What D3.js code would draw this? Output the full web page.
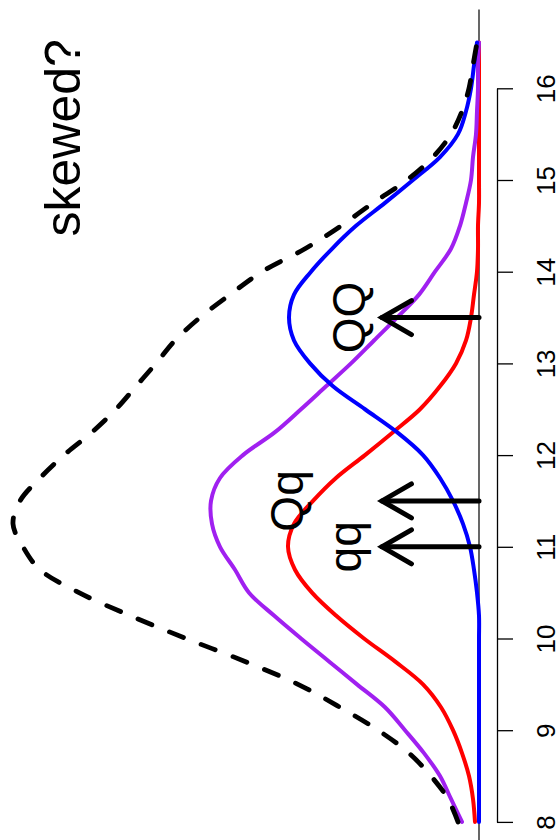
<!DOCTYPE html>
<html>
<head>
<meta charset="utf-8">
<script src="https://cdn.jsdelivr.net/npm/d3@7"></script>
<style>
  html, body { margin: 0; padding: 0; background: #fff; }
  svg { display: block; }
  text { font-family: "Liberation Sans", Arial, Helvetica, sans-serif; }
</style>
</head>
<body>
<svg id="chart" width="559" height="840"></svg>
<script>
// Trait values (x) at which the genotype densities are tabulated
const traitValues = [8, 8.25, 8.5, 8.75, 9, 9.25, 9.5, 9.75, 10, 10.25, 10.5, 10.75,
  11, 11.25, 11.5, 11.75, 12, 12.25, 12.5, 12.75, 13, 13.25, 13.5, 13.75,
  14, 14.25, 14.5, 14.75, 15, 15.25, 15.5, 15.75, 16, 16.25, 16.5];

// qq genotype density
const qqDensity = [0.004, 0.006, 0.010, 0.017, 0.026, 0.038, 0.056, 0.084, 0.115, 0.143, 0.167, 0.184,
  0.191, 0.185, 0.166, 0.143, 0.114, 0.086, 0.059, 0.039, 0.023, 0.013, 0.008, 0.005,
  0.002, 0.001, 0.001, 0.000, 0.000, 0.000, 0.000, 0.000, 0.000, 0.000, 0.000];

// Qq genotype density
const QqDensity = [0.017, 0.028, 0.039, 0.055, 0.074, 0.094, 0.122, 0.150, 0.178, 0.205, 0.230, 0.244,
  0.259, 0.267, 0.268, 0.259, 0.236, 0.204, 0.178, 0.153, 0.128, 0.105, 0.082, 0.060,
  0.044, 0.028, 0.019, 0.013, 0.008, 0.006, 0.003, 0.002, 0.001, 0.001, 0.000];

// QQ genotype density
const QQDensity = [0.000, 0.000, 0.000, 0.000, 0.000, 0.000, 0.000, 0.000, 0.000, 0.000, 0.002, 0.005,
  0.009, 0.016, 0.026, 0.039, 0.056, 0.082, 0.114, 0.146, 0.169, 0.185, 0.190, 0.185,
  0.168, 0.147, 0.123, 0.094, 0.066, 0.039, 0.021, 0.013, 0.008, 0.005, 0.002];

// Population (total) density
const totalDensity = [0.021, 0.031, 0.048, 0.070, 0.101, 0.139, 0.181, 0.234, 0.293, 0.349, 0.400, 0.439,
  0.456, 0.466, 0.459, 0.439, 0.415, 0.387, 0.363, 0.343, 0.323, 0.304, 0.279, 0.249,
  0.217, 0.174, 0.138, 0.106, 0.072, 0.046, 0.028, 0.017, 0.010, 0.006, 0.002];

// Genotype means marked with arrows, their labels and label heights
const genotypeLabels = ["qq", "Qq", "QQ"];
const genotypeMeans = [11, 11.5, 13.5];
const labelHeights = [0.135, 0.193, 0.131];
const arrowHeight = 0.097;

const tickValues = [8, 9, 10, 11, 12, 13, 14, 15, 16];
const titleText = "skewed?";
const titlePos = 15.46;

const svg = d3.select("#chart");

// The plot is laid out sideways: trait runs bottom-to-top, density runs right-to-left.
const xScale = d3.scaleLinear().domain([8, 16]).range([821.9, 88.3]);
const dScale = d3.scaleLinear().domain([0, 0.5]).range([479, -21]);

// zero-density reference line across the plot region
svg.append("line")
  .attr("x1", dScale(0)).attr("x2", dScale(0))
  .attr("y1", xScale(16.86)).attr("y2", xScale(7.66))
  .attr("stroke", "#000").attr("stroke-width", 1.2);

const line = d3.line()
  .x(d => dScale(d[1]))
  .y(d => xScale(d[0]))
  .curve(d3.curveCatmullRom);

const series = [
  { values: qqDensity, color: "#FF0000", width: 4, dash: null },
  { values: QqDensity, color: "#A020F0", width: 4, dash: null },
  { values: QQDensity, color: "#0000FF", width: 4, dash: null },
  { values: totalDensity, color: "#000000", width: 4.8, dash: "15,19" }
];

series.forEach(s => {
  svg.append("path")
    .datum(traitValues.map((x, i) => [x, s.values[i]]))
    .attr("d", line)
    .attr("fill", "none")
    .attr("stroke", s.color)
    .attr("stroke-width", s.width)
    .attr("stroke-linejoin", "round")
    .attr("stroke-linecap", "round")
    .attr("stroke-dasharray", s.dash);
});

// arrows marking the genotype means
const headLen = 34, headAng = Math.PI / 6;
genotypeMeans.forEach(m => {
  const y = xScale(m);
  const x0 = dScale(0), x1 = dScale(arrowHeight);
  const g = svg.append("g")
    .attr("stroke", "#000").attr("stroke-width", 5)
    .attr("stroke-linecap", "round").attr("fill", "none");
  g.append("line").attr("x1", x0).attr("y1", y).attr("x2", x1).attr("y2", y);
  const hx = headLen * Math.cos(headAng), hy = headLen * Math.sin(headAng);
  g.append("path")
    .attr("d", `M${x1 + hx},${y - hy}L${x1},${y}L${x1 + hx},${y + hy}`)
    .attr("stroke-linejoin", "miter");
});

// genotype labels
genotypeLabels.forEach((lab, i) => {
  svg.append("text")
    .attr("transform", `translate(${dScale(labelHeights[i])},${xScale(genotypeMeans[i])}) rotate(-90)`)
    .attr("text-anchor", "middle")
    .attr("dy", "0.36em")
    .attr("font-size", 46)
    .attr("fill", "#000")
    .text(lab);
});

// trait axis
const axis = d3.axisRight(xScale)
  .tickValues(tickValues)
  .tickSize(16)
  .tickSizeOuter(0)
  .tickFormat(d3.format("d"));

const axisG = svg.append("g")
  .attr("transform", "translate(497,0)")
  .call(axis);
axisG.select(".domain").attr("stroke", "#000").attr("stroke-width", 1.3);
axisG.selectAll(".tick line").attr("stroke", "#000").attr("stroke-width", 1.3);
axisG.selectAll(".tick text")
  .attr("x", null).attr("dy", null)
  .attr("transform", "translate(58,0) rotate(-90)")
  .attr("text-anchor", "middle")
  .attr("font-size", 26)
  .attr("font-family", "Liberation Sans, Arial, sans-serif")
  .attr("fill", "#000");

// title
svg.append("text")
  .attr("transform", `translate(80,${xScale(titlePos)}) rotate(-90)`)
  .attr("text-anchor", "middle")
  .attr("font-size", 50)
  .attr("fill", "#000")
  .text(titleText);
</script>
</body>
</html>
